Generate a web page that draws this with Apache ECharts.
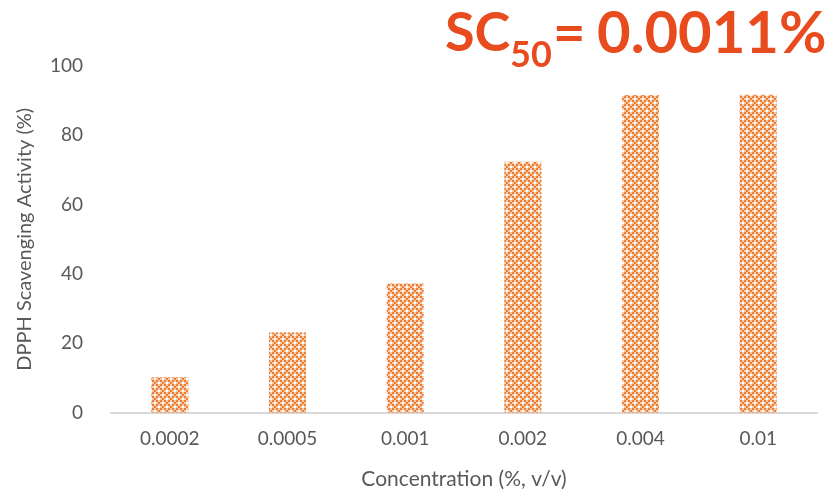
<!DOCTYPE html>
<html>
<head>
<meta charset="utf-8">
<script src="https://cdn.jsdelivr.net/npm/echarts@6/dist/echarts.min.js"></script>
<style>html,body{margin:0;padding:0;background:#fff;}#c{width:827px;height:495px;}</style>
</head>
<body>
<div id="c"></div>
<script>
const categories = ['0.0002', '0.0005', '0.001', '0.002', '0.004', '0.01'];
const scavenging = [10.2, 23.1, 37.2, 72.4, 91.6, 91.7];
const yTicks = [0, 20, 40, 60, 80, 100];

function makePattern() {
  const c = document.createElement('canvas');
  c.width = 8; c.height = 8;
  const g = c.getContext('2d');
  g.fillStyle = '#ffffff';
  g.fillRect(0, 0, 8, 8);
  for (let y = 0; y < 8; y += 2) {
    for (let x = 0; x < 8; x += 2) {
      if (((x + y) / 2) % 2 === 0) {
        g.fillStyle = '#ED7D31';
      } else {
        g.fillStyle = '#F8CBAD';
      }
      g.fillRect(x, y, 2, 2);
    }
  }
  g.fillStyle = '#ffffff';
  g.fillRect(2, 2, 2, 2);
  g.fillRect(6, 6, 2, 2);
  return c;
}

const chart = echarts.init(document.getElementById('c'), null, {renderer: 'canvas'});
const font = 'Lato';
chart.setOption({
  animation: false,
  backgroundColor: '#ffffff',
  grid: {left: 111, right: 10, top: 66, bottom: 82.5},
  graphic: [
    {type: 'text', left: 445, top: 7, style: {text: 'SC', fontFamily: font, fontWeight: 'bold', fontSize: 54, fill: '#E84B1E'}},
    {type: 'text', left: 510, top: 37, style: {text: '50', fontFamily: font, fontWeight: 'bold', fontSize: 36, fill: '#E84B1E'}},
    {type: 'text', left: 553, top: 6, style: {text: '=', fontFamily: font, fontWeight: 'bold', fontSize: 56, fill: '#E84B1E'}},
    {type: 'text', left: 597, top: 5, style: {text: '0.0011%', fontFamily: font, fontWeight: 'bold', fontSize: 58, fill: '#E84B1E'}}
  ],
  xAxis: {
    type: 'category',
    data: categories,
    name: 'Concentration (%, v/v)',
    nameLocation: 'middle',
    nameGap: 56,
    nameTextStyle: {fontFamily: font, fontSize: 21, color: '#595959'},
    axisLine: {lineStyle: {color: '#D9D9D9', width: 2}},
    axisTick: {show: false},
    axisLabel: {fontFamily: font, fontSize: 19, color: '#595959', margin: 17}
  },
  yAxis: {
    type: 'value',
    min: yTicks[0],
    max: yTicks[yTicks.length - 1],
    interval: 20,
    name: 'DPPH Scavenging Activity (%)',
    nameLocation: 'middle',
    nameGap: 76,
    nameTextStyle: {fontFamily: font, fontSize: 20, color: '#595959'},
    axisLine: {show: false},
    axisTick: {show: false},
    splitLine: {show: false},
    axisLabel: {fontFamily: font, fontSize: 19, color: '#595959', margin: 28}
  },
  series: [{
    type: 'bar',
    data: scavenging,
    barWidth: 37,
    itemStyle: {color: {image: makePattern(), repeat: 'repeat'}}
  }]
});
</script>
</body>
</html>
